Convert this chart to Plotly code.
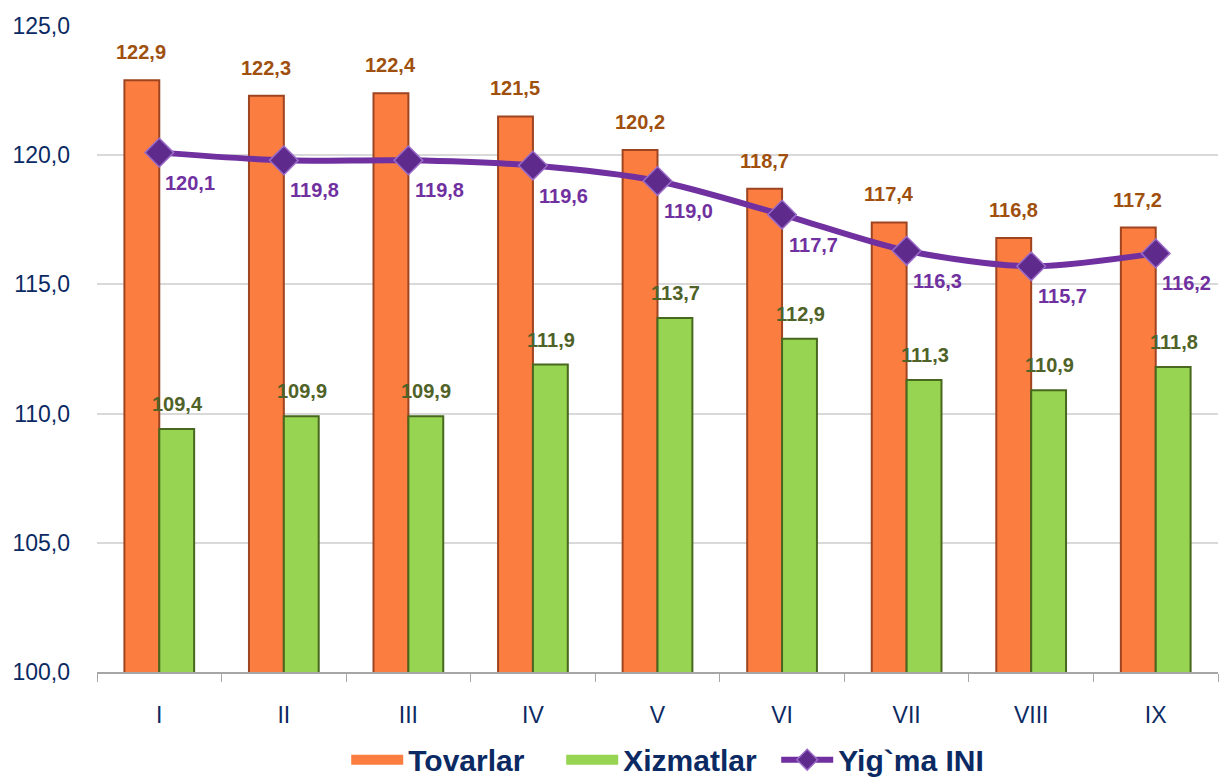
import plotly.graph_objects as go

months = ["I", "II", "III", "IV", "V", "VI", "VII", "VIII", "IX"]
tovarlar = [122.9, 122.3, 122.4, 121.5, 120.2, 118.7, 117.4, 116.8, 117.2]
xizmatlar = [109.4, 109.9, 109.9, 111.9, 113.7, 112.9, 111.3, 110.9, 111.8]
yigma_ini = [120.1, 119.8, 119.8, 119.6, 119.0, 117.7, 116.3, 115.7, 116.2]

navy = "#0B2A63"
orange, orange_dark = "#FB7D40", "#9E4420"
green, green_dark = "#96D452", "#47681E"
purple = "#7030A0"
label_font = "Arial, Liberation Sans"


def fmt(v):
    return f"{v:.1f}".replace(".", ",")


fig = go.Figure()

fig.add_trace(go.Bar(
    x=months, y=tovarlar, name="Tovarlar", showlegend=False,
    marker=dict(color=orange, line=dict(color=orange_dark, width=2)),
))
fig.add_trace(go.Bar(
    x=months, y=xizmatlar, name="Xizmatlar", showlegend=False,
    marker=dict(color=green, line=dict(color=green_dark, width=2)),
))

# wide legend swatches like the original
fig.add_trace(go.Scatter(x=[None], y=[None], mode="lines", name="Tovarlar",
                         line=dict(color=orange, width=12)))
fig.add_trace(go.Scatter(x=[None], y=[None], mode="lines", name="Xizmatlar",
                         line=dict(color=green, width=12)))

fig.add_trace(go.Scatter(
    x=months, y=yigma_ini, name="Yig`ma INI",
    mode="lines+markers",
    line=dict(color=purple, width=6, shape="spline", smoothing=0.8),
    marker=dict(symbol="diamond", size=22, color="#5E2A8C",
                line=dict(color="#9A6BC8", width=1.5)),
))

# value labels
for m, v in zip(months, tovarlar):
    fig.add_annotation(x=m, y=v, text=f"<b>{fmt(v)}</b>", showarrow=False,
                       xshift=-18, yshift=28,
                       font=dict(family=label_font, size=20, color="#A0500E"))
for m, v in zip(months, xizmatlar):
    fig.add_annotation(x=m, y=v, text=f"<b>{fmt(v)}</b>", showarrow=False,
                       xshift=18, yshift=25,
                       font=dict(family=label_font, size=20, color="#4F6228"))
for m, v in zip(months, yigma_ini):
    fig.add_annotation(x=m, y=v, text=f"<b>{fmt(v)}</b>", showarrow=False,
                       xshift=31, yshift=-30,
                       font=dict(family=label_font, size=20, color=purple))

fig.update_layout(
    width=1226, height=782,
    margin=dict(l=97, r=8, t=26, b=110, autoexpand=False),
    plot_bgcolor="white", paper_bgcolor="white",
    barmode="group", bargap=0.44, bargroupgap=0.0,
    separators=", ",
    font=dict(family="Arial, Liberation Sans", color=navy),
    legend=dict(
        orientation="h", x=0.51, xanchor="center", y=-0.176, yanchor="bottom",
        font=dict(size=30, color=navy, family="Arial, Liberation Sans",
                  weight="bold"),
        itemwidth=52, entrywidth=148, traceorder="normal",
    ),
    showlegend=True,
)

fig.update_xaxes(
    automargin=False, range=[-0.5, len(months) - 0.5],
    showline=True, linecolor="#A6A6A6", linewidth=1.5,
    ticks="outside", tickson="boundaries", ticklen=8, tickcolor="#A6A6A6",
    tickfont=dict(size=23, color=navy), ticklabelstandoff=22,
)
fig.update_yaxes(
    automargin=False,
    range=[100, 125], dtick=5, tickformat=".1f",
    showgrid=True, gridcolor="#D9D9D9", gridwidth=1.5,
    zeroline=False, showline=False,
    tickfont=dict(size=23, color=navy), ticklabelstandoff=26,
)

# drop the default page margin so the figure sits at the window corner
fig.write_html("out.html", config={"displayModeBar": False},
               post_script="document.body.style.margin='0';")
